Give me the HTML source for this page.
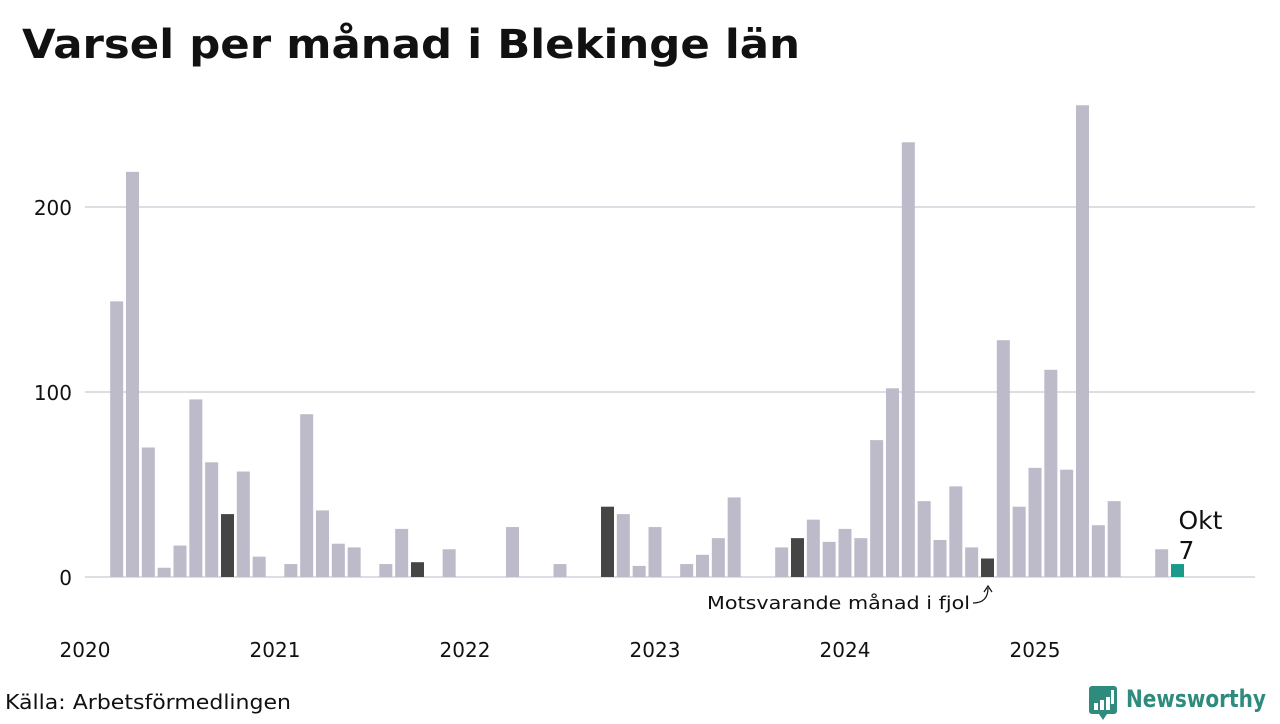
<!DOCTYPE html>
<html><head><meta charset="utf-8"><style>
body{margin:0;background:#fff;width:1280px;height:720px;overflow:hidden;font-family:"DejaVu Sans",sans-serif}
</style></head><body>
<svg id="chart" width="1280" height="720" xmlns="http://www.w3.org/2000/svg" font-family="DejaVu Sans, sans-serif">
<text x="22" y="58" font-size="40" font-weight="bold" fill="#111" textLength="778" lengthAdjust="spacingAndGlyphs">Varsel per månad i Blekinge län</text>
<g id="grid"></g><g id="bars"></g><g id="xlabels"></g>
<text x="707" y="609" font-size="18" fill="#111" textLength="263" lengthAdjust="spacingAndGlyphs">Motsvarande månad i fjol</text>
<path d="M973,603 C984,603 988,597 988,588" fill="none" stroke="#111" stroke-width="1.2"/>
<path d="M984,592 L988,586 L992,592" fill="none" stroke="#111" stroke-width="1.2"/>
<text x="5" y="709" font-size="20" fill="#111" textLength="286" lengthAdjust="spacingAndGlyphs">Källa: Arbetsförmedlingen</text>
<g>
<rect x="1089" y="686" width="28" height="28" rx="3" fill="#2e8b7e"/>
<path d="M1099,714 L1103,720 L1107,714Z" fill="#2e8b7e"/>
<rect x="1094" y="703" width="4" height="7" fill="#fff"/><rect x="1100" y="700" width="4" height="10" fill="#fff"/><rect x="1106" y="697" width="4" height="13" fill="#fff"/><rect x="1111" y="690" width="3" height="14" fill="#fff"/>
<text x="1126" y="707" font-size="24" font-weight="bold" fill="#2e8b7e" textLength="140" lengthAdjust="spacingAndGlyphs">Newsworthy</text>
</g>
</svg>
<script>
const years=[2020,2021,2022,2023,2024,2025];
const values=[
0,0,149,219,70,5,17,96,62,34,57,11,
0,7,88,36,18,16,0,7,26,8,0,15,
0,0,0,27,0,0,7,0,0,38,34,6,
27,0,7,12,21,43,0,0,16,21,31,19,
26,21,74,102,235,41,20,49,16,10,128,38,
59,112,58,255,28,41,0,0,15,7];
const yTicks=[0,100,200];
const svgNS="http://www.w3.org/2000/svg";
const y=v=>577-v*1.85;
const x=i=>85+i*190/12;
const grid=document.getElementById('grid');
yTicks.forEach(t=>{
 const l=document.createElementNS(svgNS,'line');
 l.setAttribute('x1',85);l.setAttribute('x2',1255);l.setAttribute('y1',y(t));l.setAttribute('y2',y(t));
 l.setAttribute('stroke','#dddde3');l.setAttribute('stroke-width','2');
 
 
 grid.appendChild(l);
 const tx=document.createElementNS(svgNS,'text');
 tx.setAttribute('x',72);tx.setAttribute('y',y(t)+8);tx.setAttribute('text-anchor','end');tx.setAttribute('font-size','20');tx.setAttribute('fill','#111');
 tx.textContent=t;
 
 
 grid.appendChild(tx);
});
const bars=document.getElementById('bars');
const last=values.length-1;
values.forEach((v,i)=>{
 if(v<=0)return;
 const r=document.createElementNS(svgNS,'rect');
 r.setAttribute('x',x(i)-6.5);r.setAttribute('width',13);
 r.setAttribute('y',y(v));r.setAttribute('height',v*1.85);
 r.setAttribute('fill',i===last?'#1a9a8a':(i%12===9?'#454545':'#bdbbc9'));
 
 
 bars.appendChild(r);
});
const lt=document.createElementNS(svgNS,'text');
lt.setAttribute('x',x(last)+1);lt.setAttribute('y',y(values[last])-35);lt.setAttribute('font-size','25');lt.setAttribute('fill','#111');
lt.innerHTML='<tspan>Okt</tspan><tspan x="'+(x(last)+1)+'" dy="30">'+values[last]+'</tspan>';


bars.appendChild(lt);
const xl=document.getElementById('xlabels');
years.forEach((yr,k)=>{
 const t=document.createElementNS(svgNS,'text');
 t.setAttribute('x',x(k*12));t.setAttribute('y',657);t.setAttribute('text-anchor','middle');t.setAttribute('font-size','20');t.setAttribute('fill','#111');
 t.textContent=yr;
 
 
 xl.appendChild(t);
});
</script>
</body></html>
